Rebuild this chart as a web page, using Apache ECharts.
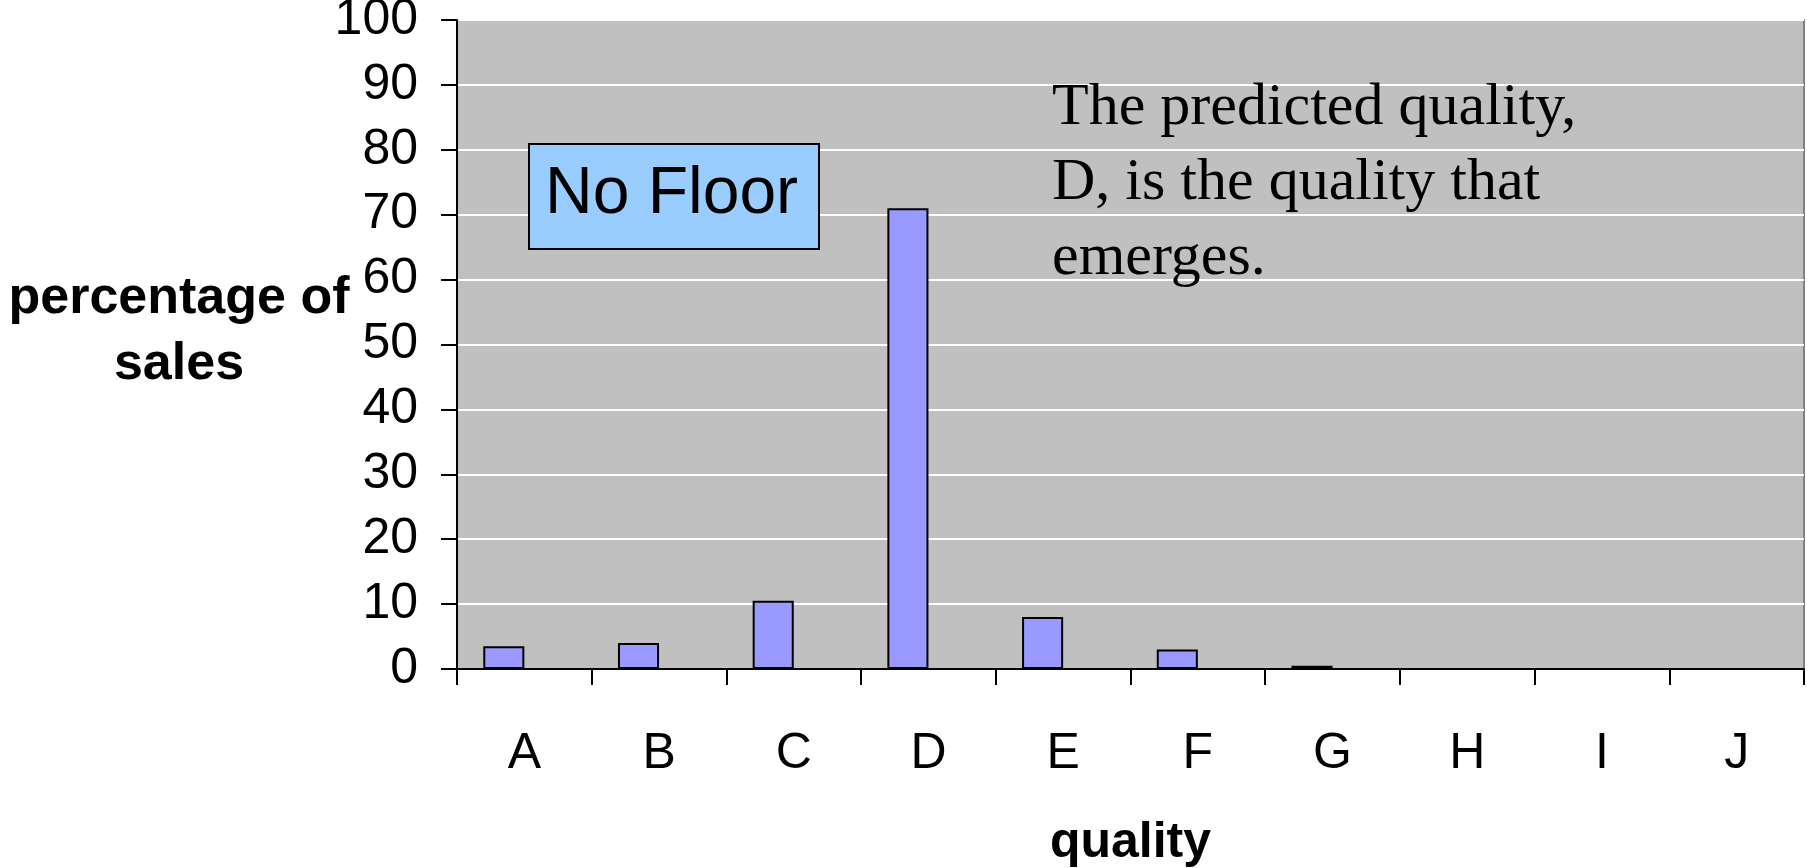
<!DOCTYPE html>
<html>
<head>
<meta charset="utf-8">
<script src="https://cdn.jsdelivr.net/npm/echarts@6/dist/echarts.min.js"></script>
<style>
  html, body { margin: 0; padding: 0; background: #ffffff; }
  #chart { width: 1807px; height: 868px; }
</style>
</head>
<body>
<div id="chart"></div>
<script>
const qualities = ['A', 'B', 'C', 'D', 'E', 'F', 'G', 'H', 'I', 'J'];
const salesShare = [3.5, 4, 10.5, 71, 8, 3, 0.5, 0, 0, 0];
const secondSeries = [];
const yTicks = [0, 10, 20, 30, 40, 50, 60, 70, 80, 90, 100];

const chart = echarts.init(document.getElementById('chart'), null, { renderer: 'canvas' });

const option = {
  animation: false,
  backgroundColor: '#ffffff',
  grid: {
    left: 457, right: 3, top: 20, bottom: 199,
    outerBoundsMode: 'none',
    containLabel: false,
    show: true,
    backgroundColor: '#C0C0C0',
    borderColor: '#808080',
    borderWidth: 2
  },
  xAxis: {
    type: 'category',
    data: qualities,
    name: 'quality',
    nameLocation: 'middle',
    nameGap: 149,
    nameMoveOverlap: false,
    nameTextStyle: { fontFamily: 'Liberation Sans', fontWeight: 'bold', fontSize: 50, color: '#000' },
    axisLine: { show: true, lineStyle: { color: '#000', width: 2 } },
    axisTick: { show: true, length: 16, lineStyle: { color: '#000', width: 2 } },
    axisLabel: { margin: 60, fontFamily: 'Liberation Sans', fontSize: 50, color: '#000', lineHeight: 50 },
    splitLine: { show: false }
  },
  yAxis: {
    type: 'value',
    min: yTicks[0],
    max: yTicks[yTicks.length - 1],
    interval: 10,
    name: '{t|percentage of}\n{t|sales}\n{s| }',
    nameLocation: 'middle',
    nameRotate: 0,
    nameGap: 278,
    nameMoveOverlap: false,
    nameTextStyle: {
      align: 'center',
      rich: {
        t: { fontFamily: 'Liberation Sans', fontWeight: 'bold', fontSize: 52, color: '#000', lineHeight: 66 },
        s: { fontSize: 2, lineHeight: 26 }
      }
    },
    axisLine: { show: true, lineStyle: { color: '#000', width: 2 } },
    axisTick: { show: true, length: 16, lineStyle: { color: '#000', width: 2 } },
    axisLabel: { margin: 39, fontFamily: 'Liberation Sans', fontSize: 50, color: '#000' },
    splitLine: { show: true, lineStyle: { color: '#ffffff', width: 2 } }
  },
  series: [
    {
      name: 'No Floor',
      type: 'bar',
      data: salesShare,
      barGap: '0%',
      barCategoryGap: '39%',
      itemStyle: { color: '#9999FF', borderColor: '#000000', borderWidth: 2 }
    },
    {
      name: 'Series 2',
      type: 'bar',
      data: secondSeries,
      barGap: '0%',
      barCategoryGap: '39%',
      itemStyle: { color: '#993366', borderColor: '#000000', borderWidth: 2 }
    }
  ],
  graphic: [
    {
      type: 'rect',
      left: 528, top: 143,
      shape: { width: 290, height: 105 },
      style: { fill: '#99CCFF', stroke: '#000000', lineWidth: 2 },
      z: 10
    },
    {
      type: 'text',
      left: 545, top: 162,
      style: { text: 'No Floor', font: '66px "Liberation Sans"', fill: '#000' },
      z: 11
    },
    {
      type: 'text',
      left: 1052, top: 71,
      style: {
        text: 'The predicted quality,\nD, is the quality that\nemerges.',
        font: '60px "Liberation Serif"',
        lineHeight: 75,
        fill: '#000'
      },
      z: 11
    }
  ]
};

chart.setOption(option);
</script>
</body>
</html>
